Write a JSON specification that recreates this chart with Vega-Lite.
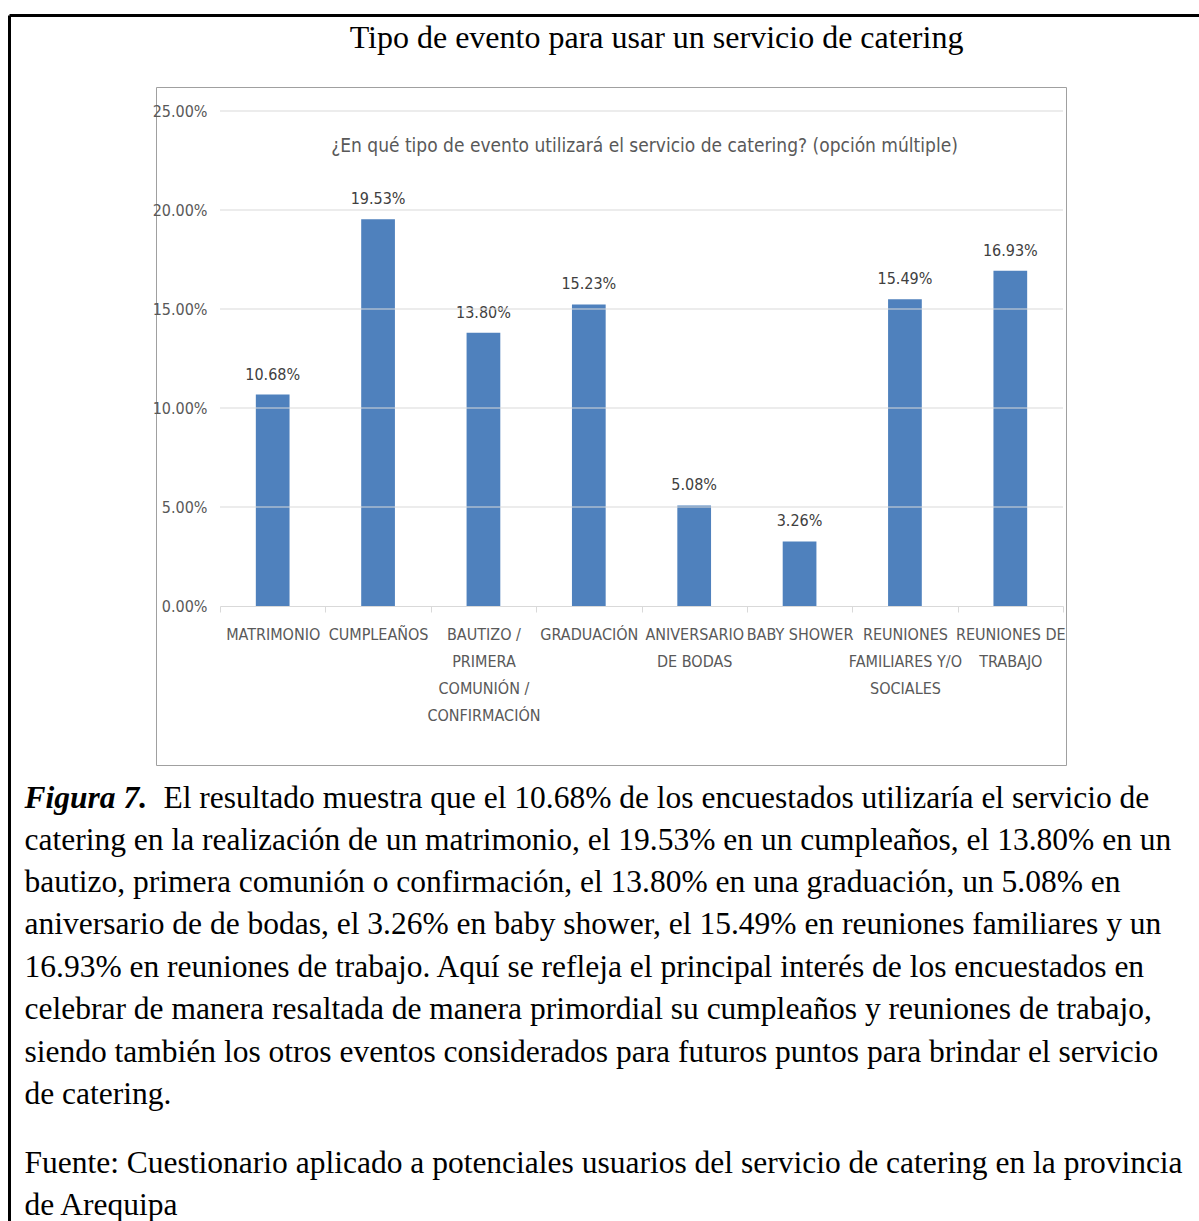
{
  "$schema": "https://vega.github.io/schema/vega-lite/v6.json",
  "width": 910,
  "height": 678,
  "autosize": "none",
  "padding": {"left": 156, "top": 87, "right": 133, "bottom": 456},
  "background": "white",
  "config": {"view": {"stroke": "#a0a0a0", "strokeWidth": 1}},
  "datasets": {
    "events": [
      {"evento": "MATRIMONIO", "porcentaje": 0.1068},
      {"evento": "CUMPLEAÑOS", "porcentaje": 0.1953},
      {"evento": "BAUTIZO / PRIMERA COMUNIÓN / CONFIRMACIÓN", "porcentaje": 0.138},
      {"evento": "GRADUACIÓN", "porcentaje": 0.1523},
      {"evento": "ANIVERSARIO DE BODAS", "porcentaje": 0.0508},
      {"evento": "BABY SHOWER", "porcentaje": 0.0326},
      {"evento": "REUNIONES FAMILIARES Y/O SOCIALES", "porcentaje": 0.1549},
      {"evento": "REUNIONES DE TRABAJO", "porcentaje": 0.1693}
    ],
    "grid": [{"v": 0.05}, {"v": 0.1}, {"v": 0.15}, {"v": 0.2}, {"v": 0.25}]
  },
  "layer": [
    {
      "data": {"name": "events"},
      "encoding": {
        "x": {
          "field": "evento",
          "type": "nominal",
          "sort": null,
          "scale": {"range": [64, 907], "paddingInner": 0, "paddingOuter": 0},
          "axis": {
            "orient": "bottom",
            "offset": -159,
            "domainColor": "#d9d9d9",
            "domainWidth": 1,
            "ticks": true,
            "tickColor": "#d9d9d9",
            "tickSize": 6,
            "tickBand": "extent",
            "labelAngle": 0,
            "labelPadding": 14,
            "labelFont": "Liberation Sans Narrow, DejaVu Sans Condensed, Arial Narrow, sans-serif",
            "labelFontSize": 16,
            "labelColor": "#595959",
            "labelLineHeight": 27,
            "labelLimit": 300,
            "labelOverlap": false,
            "labelExpr": "datum.label == 'BAUTIZO / PRIMERA COMUNIÓN / CONFIRMACIÓN' ? ['BAUTIZO /', 'PRIMERA', 'COMUNIÓN /', 'CONFIRMACIÓN'] : datum.label == 'ANIVERSARIO DE BODAS' ? ['ANIVERSARIO', 'DE BODAS'] : datum.label == 'REUNIONES FAMILIARES Y/O SOCIALES' ? ['REUNIONES', 'FAMILIARES Y/O', 'SOCIALES'] : datum.label == 'REUNIONES DE TRABAJO' ? ['REUNIONES DE', 'TRABAJO'] : datum.label",
            "title": [
              "catering en la realización de un matrimonio, el 19.53% en un cumpleaños, el 13.80% en un",
              "bautizo, primera comunión o confirmación, el 13.80% en una graduación, un 5.08% en",
              "aniversario de de bodas, el 3.26% en baby shower, el 15.49% en reuniones familiares y un",
              "16.93% en reuniones de trabajo. Aquí se refleja el principal interés de los encuestados en",
              "celebrar de manera resaltada de manera primordial su cumpleaños y reuniones de trabajo,",
              "siendo también los otros eventos considerados para futuros puntos para brindar el servicio",
              "de catering."
            ],
            "titleX": -132,
            "titleY": 243,
            "titleAlign": "left",
            "titleBaseline": "alphabetic",
            "titleAngle": 0,
            "titleFont": "Liberation Serif",
            "titleFontSize": 31.5,
            "titleFontWeight": "normal",
            "titleColor": "black",
            "titleLineHeight": 42.4,
            "titleLimit": 3000
          }
        },
        "y": {
          "field": "porcentaje",
          "type": "quantitative",
          "scale": {"domain": [0, 0.25], "range": [519, 24], "nice": false},
          "axis": {
            "orient": "left",
            "offset": -64,
            "values": [0, 0.05, 0.1, 0.15, 0.2, 0.25],
            "format": ".2%",
            "domain": false,
            "ticks": false,
            "tickSize": 0,
            "grid": false,
            "labelPadding": 13,
            "labelFont": "Liberation Sans Narrow, DejaVu Sans Condensed, Arial Narrow, sans-serif",
            "labelFontSize": 16,
            "labelColor": "#595959",
            "title": "Figura 7.",
            "titleX": -196,
            "titleY": 720,
            "titleAngle": 0,
            "titleAlign": "left",
            "titleBaseline": "alphabetic",
            "titleFont": "Liberation Serif",
            "titleFontSize": 31.5,
            "titleFontWeight": "bold",
            "titleFontStyle": "italic",
            "titleColor": "black",
            "titleLimit": 1000
          }
        }
      },
      "layer": [
        {"mark": {"type": "bar", "color": "#4f81bd", "width": {"band": 0.32}}},
        {
          "mark": {
            "type": "text",
            "baseline": "alphabetic",
            "dy": -15,
            "font": "Liberation Sans Narrow, DejaVu Sans Condensed, Arial Narrow, sans-serif",
            "fontSize": 16,
            "fill": "#404040"
          },
          "encoding": {"text": {"field": "porcentaje", "type": "quantitative", "format": ".2%"}}
        }
      ]
    },
    {
      "data": {"name": "grid"},
      "mark": {"type": "rule", "color": "#d9d9d9", "strokeWidth": 1},
      "encoding": {
        "x": {
          "datum": 0,
          "type": "quantitative",
          "scale": {"domain": [0, 1], "range": [64, 907]},
          "axis": {
            "orient": "top",
            "offset": 0,
            "domain": false,
            "ticks": false,
            "labels": false,
            "grid": false,
            "title": "¿En qué tipo de evento utilizará el servicio de catering? (opción múltiple)",
            "titleX": 488,
            "titleY": 58,
            "titleAlign": "center",
            "titleBaseline": "middle",
            "titleAngle": 0,
            "titleFont": "Liberation Sans Narrow, DejaVu Sans Condensed, Arial Narrow, sans-serif",
            "titleFontSize": 19,
            "titleFontWeight": "normal",
            "titleColor": "#595959",
            "titleLimit": 2000
          }
        },
        "x2": {"datum": 1},
        "y": {
          "field": "v",
          "type": "quantitative",
          "scale": {"domain": [0, 0.25], "range": [519, 24], "nice": false},
          "axis": {
            "orient": "left",
            "offset": 0,
            "domain": false,
            "ticks": false,
            "labels": false,
            "grid": false,
            "title": "El resultado muestra que el 10.68% de los encuestados utilizaría el servicio de",
            "titleX": 7,
            "titleY": 720,
            "titleAlign": "left",
            "titleBaseline": "alphabetic",
            "titleAngle": 0,
            "titleFont": "Liberation Serif",
            "titleFontSize": 31.5,
            "titleFontWeight": "normal",
            "titleColor": "black",
            "titleLimit": 3000
          }
        }
      }
    },
    {
      "data": {"values": [{"k": 1}]},
      "mark": {"type": "point", "opacity": 0},
      "encoding": {
        "x": {
          "datum": 0,
          "type": "quantitative",
          "scale": {"domain": [0, 1], "range": [-147, 1060]},
          "axis": {
            "orient": "top",
            "offset": 72,
            "domain": true,
            "domainColor": "black",
            "domainWidth": 3,
            "ticks": false,
            "labels": false,
            "grid": false,
            "title": "Tipo de evento para usar un servicio de catering",
            "titleX": 500,
            "titleY": 32,
            "titleAlign": "center",
            "titleBaseline": "alphabetic",
            "titleAngle": 0,
            "titleFont": "Liberation Serif",
            "titleFontSize": 32,
            "titleFontWeight": "normal",
            "titleColor": "black",
            "titleLimit": 2000
          }
        },
        "y": {
          "datum": 0,
          "type": "quantitative",
          "scale": {"domain": [0, 1], "range": [1150, -72]},
          "axis": {
            "orient": "left",
            "offset": 147,
            "domain": true,
            "domainColor": "black",
            "domainWidth": 3,
            "ticks": false,
            "labels": false,
            "grid": false,
            "title": [
              "Fuente: Cuestionario aplicado a potenciales usuarios del servicio de catering en la provincia",
              "de Arequipa"
            ],
            "titleX": 15,
            "titleY": 1085,
            "titleAlign": "left",
            "titleBaseline": "alphabetic",
            "titleAngle": 0,
            "titleFont": "Liberation Serif",
            "titleFontSize": 31.5,
            "titleFontWeight": "normal",
            "titleColor": "black",
            "titleLineHeight": 42.4,
            "titleLimit": 3000
          }
        }
      }
    }
  ],
  "resolve": {"scale": {"x": "independent", "y": "independent"}}
}
